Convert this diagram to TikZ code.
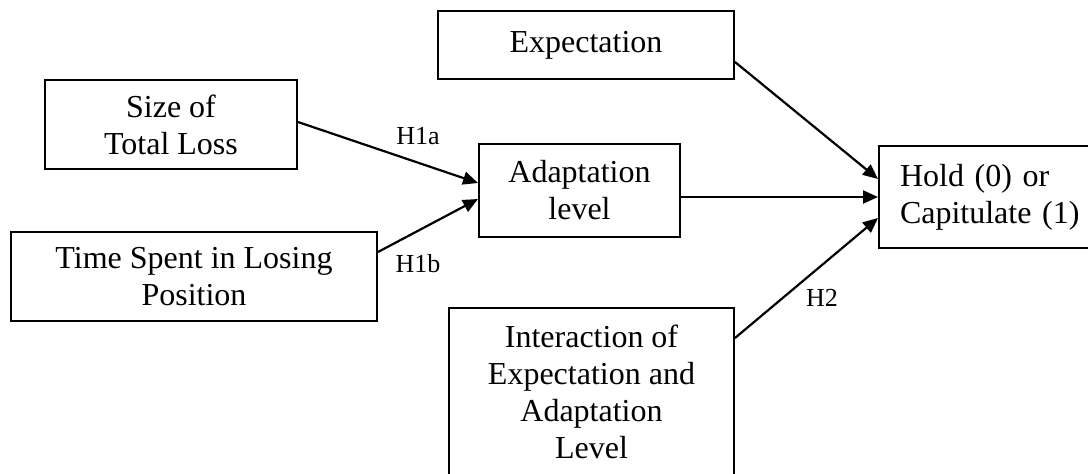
\documentclass[tikz,border=0pt]{standalone}
\usepackage{fontspec}
\setmainfont{Liberation Serif}
\usetikzlibrary{arrows.meta,calc}
\begin{document}
\begin{tikzpicture}[x=1pt,y=-1pt,
  box/.style={draw, line width=2pt, inner sep=0pt, align=center, font=\fontsize{32}{37}\selectfont},
  conn/.style={line width=2.2pt, -{Triangle[length=15pt,width=13pt]}},
  hyp/.style={font=\fontsize{26}{30}\selectfont, anchor=base, inner sep=0pt}]
\useasboundingbox (0,0) rectangle (1088,474);
\begin{scope}
\clip (0,0) rectangle (1088,474);
\node[box, minimum width=296pt, minimum height=68pt] (exp) at (586,45) {Expectation};
\node[box, minimum width=252pt, minimum height=89pt] (size) at (171,124.5) {Size of\\Total Loss};
\node[box, minimum width=366pt, minimum height=89pt] (time) at (194,276.5) {Time Spent in Losing\\Position};
\node[box, minimum width=201pt, minimum height=93pt] (adapt) at (579.5,190.5) {Adaptation\\level};
\node[box, anchor=north west, align=left, text width=190pt, inner xsep=21pt, inner ysep=0pt, minimum height=102pt] (hold) at (878,145) {Hold (0) or\\Capitulate (1)};
\node[box, minimum width=285pt, minimum height=168pt] (inter) at (591.5,392) {Interaction of\\Expectation and\\Adaptation\\Level};

\draw[conn] ([yshift=2.5pt]size.east) -- ([yshift=7.5pt]adapt.west);
\draw[conn] ([yshift=24.5pt]time.east) -- ([yshift=-8.5pt]adapt.west);
\coordinate (aout) at ([yshift=-6.5pt]adapt.east);
\draw[conn] (aout) -- (aout -| hold.west);
\draw[conn] ([yshift=-17pt]exp.east) -- ([yshift=18pt]hold.west);
\draw[conn] ([yshift=54pt]inter.east) -- ([yshift=-21pt]hold.west);

\node[hyp] (h1a) at (418,144) {H1a};
\node[hyp] (h1b) at (418,272) {H1b};
\node[hyp] (h2) at (822,306) {H2};
\end{scope}
\end{tikzpicture}
\end{document}
